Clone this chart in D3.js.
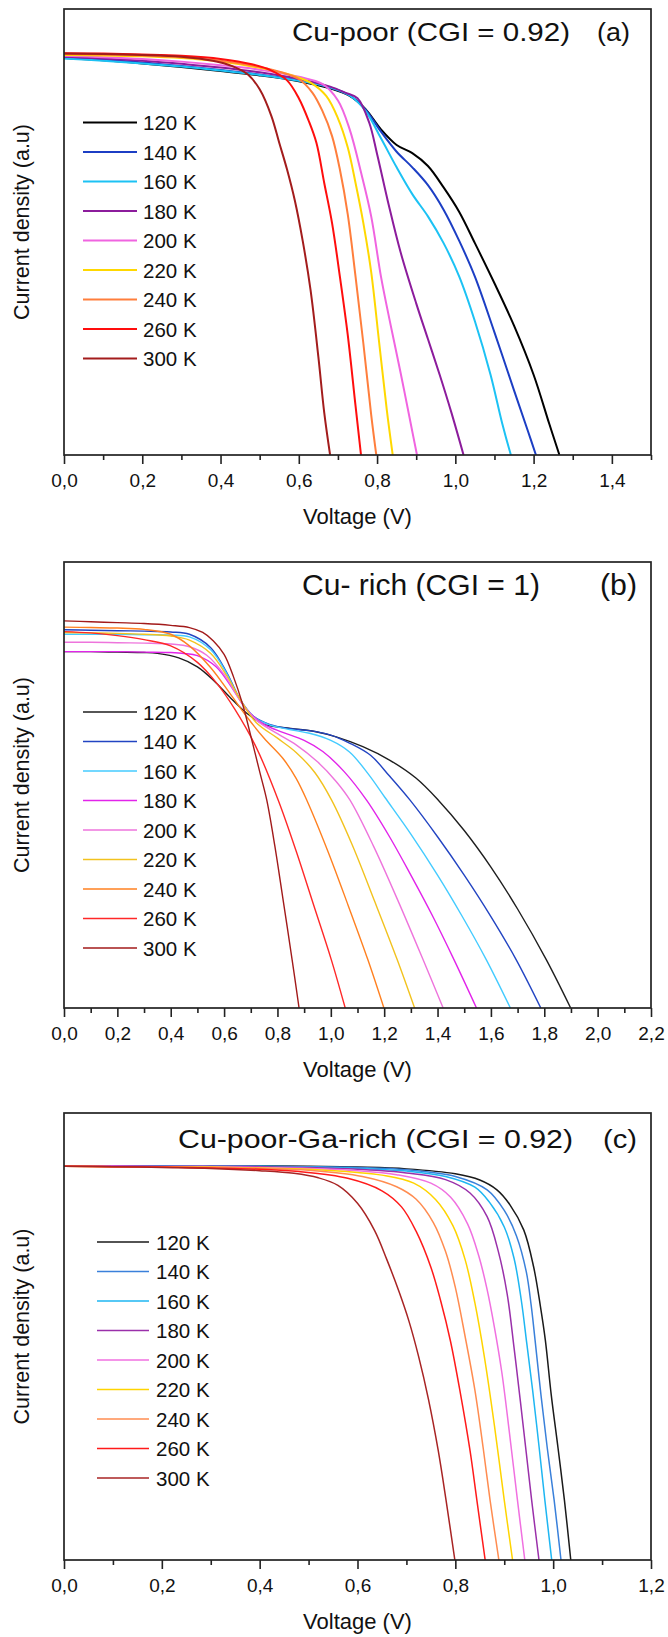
<!DOCTYPE html>
<html>
<head>
<meta charset="utf-8">
<script src="https://cdn.jsdelivr.net/npm/d3@7"></script>
<style>
  body { margin: 0; background: #fff; }
  svg { display: block; font-family: "Liberation Sans", Arial, sans-serif; }
</style>
</head>
<body>
<svg id="chart" width="668" height="1637"></svg>
<script>
// Measurement temperatures (legend entries, same for all three panels)
const temperatures = ["120 K", "140 K", "160 K", "180 K", "200 K", "220 K", "240 K", "260 K", "300 K"];

// ---- (a) Cu-poor (CGI = 0.92): voltage (V) and current density (a.u.) per temperature
const poorVoltage = [
  [0, 0.1, 0.2, 0.3, 0.4, 0.5, 0.6, 0.68, 0.73, 0.77, 0.81, 0.85, 0.89, 0.93, 0.97, 1.01, 1.05, 1.10, 1.15, 1.20, 1.24, 1.266],
  [0, 0.1, 0.2, 0.3, 0.4, 0.5, 0.6, 0.68, 0.73, 0.77, 0.81, 0.85, 0.89, 0.93, 0.97, 1.01, 1.05, 1.10, 1.15, 1.185, 1.206],
  [0, 0.1, 0.2, 0.3, 0.4, 0.5, 0.6, 0.68, 0.73, 0.77, 0.81, 0.85, 0.89, 0.93, 0.97, 1.01, 1.05, 1.09, 1.12, 1.142],
  [0, 0.1, 0.2, 0.3, 0.4, 0.5, 0.6, 0.68, 0.72, 0.75, 0.78, 0.80, 0.83, 0.86, 0.90, 0.93, 0.96, 0.99, 1.021],
  [0, 0.1, 0.2, 0.3, 0.4, 0.5, 0.6, 0.66, 0.70, 0.73, 0.76, 0.785, 0.81, 0.835, 0.86, 0.885, 0.902],
  [0, 0.1, 0.2, 0.3, 0.4, 0.5, 0.58, 0.63, 0.67, 0.70, 0.725, 0.745, 0.765, 0.785, 0.805, 0.825, 0.840],
  [0, 0.1, 0.2, 0.3, 0.4, 0.5, 0.56, 0.60, 0.635, 0.66, 0.685, 0.705, 0.725, 0.745, 0.765, 0.785, 0.798],
  [0, 0.1, 0.2, 0.3, 0.4, 0.48, 0.53, 0.57, 0.60, 0.625, 0.645, 0.665, 0.685, 0.705, 0.725, 0.745, 0.759],
  [0, 0.1, 0.2, 0.3, 0.38, 0.43, 0.47, 0.50, 0.53, 0.55, 0.57, 0.59, 0.61, 0.63, 0.65, 0.665, 0.68]
];
const poorCurrent = [
  [0.890, 0.885, 0.878, 0.870, 0.861, 0.851, 0.838, 0.822, 0.805, 0.776, 0.730, 0.695, 0.677, 0.648, 0.600, 0.545, 0.475, 0.385, 0.29, 0.18, 0.07, 0],
  [0.891, 0.886, 0.880, 0.872, 0.863, 0.853, 0.840, 0.824, 0.806, 0.775, 0.725, 0.68, 0.645, 0.605, 0.55, 0.48, 0.40, 0.275, 0.145, 0.055, 0],
  [0.889, 0.884, 0.878, 0.871, 0.862, 0.852, 0.839, 0.824, 0.806, 0.772, 0.71, 0.645, 0.585, 0.535, 0.475, 0.40, 0.30, 0.18, 0.07, 0],
  [0.893, 0.889, 0.884, 0.877, 0.869, 0.858, 0.843, 0.826, 0.812, 0.80, 0.745, 0.675, 0.56, 0.455, 0.34, 0.26, 0.18, 0.095, 0],
  [0.895, 0.892, 0.888, 0.882, 0.874, 0.864, 0.848, 0.832, 0.795, 0.73, 0.63, 0.535, 0.40, 0.29, 0.185, 0.075, 0],
  [0.897, 0.896, 0.894, 0.890, 0.882, 0.868, 0.852, 0.835, 0.805, 0.755, 0.69, 0.61, 0.52, 0.41, 0.255, 0.10, 0],
  [0.899, 0.898, 0.896, 0.892, 0.884, 0.870, 0.857, 0.843, 0.812, 0.772, 0.715, 0.64, 0.54, 0.40, 0.25, 0.09, 0],
  [0.901, 0.900, 0.898, 0.895, 0.888, 0.876, 0.862, 0.840, 0.80, 0.75, 0.70, 0.61, 0.52, 0.40, 0.27, 0.11, 0],
  [0.900, 0.899, 0.897, 0.893, 0.884, 0.872, 0.853, 0.82, 0.76, 0.70, 0.64, 0.57, 0.48, 0.37, 0.22, 0.095, 0]
];
const poorColors = ["#000000", "#1c3ec4", "#1cc2f4", "#8c1c9c", "#f064e0", "#ffd800", "#ff7e3c", "#ff0d0d", "#a31c1c"];
const poorTicks = [0, 0.2, 0.4, 0.6, 0.8, 1.0, 1.2, 1.4];
const poorTickLabels = ["0,0", "0,2", "0,4", "0,6", "0,8", "1,0", "1,2", "1,4"];

// ---- (b) Cu-rich (CGI = 1)
const richVoltage = [
  [0, 0.1, 0.2, 0.3, 0.35, 0.43, 0.50, 0.56, 0.62, 0.685, 0.75, 0.85, 0.94, 1.02, 1.12, 1.22, 1.32, 1.403, 1.50, 1.60, 1.70, 1.808, 1.899],
  [0, 0.1, 0.2, 0.3, 0.4, 0.47, 0.55, 0.61, 0.66, 0.71, 0.77, 0.85, 0.92, 1.00, 1.07, 1.15, 1.22, 1.297, 1.40, 1.50, 1.60, 1.695, 1.787],
  [0, 0.1, 0.2, 0.3, 0.4, 0.47, 0.55, 0.61, 0.66, 0.71, 0.77, 0.85, 0.92, 1.00, 1.07, 1.14, 1.203, 1.30, 1.40, 1.49, 1.583, 1.673],
  [0, 0.1, 0.2, 0.3, 0.4, 0.45, 0.50, 0.57, 0.635, 0.685, 0.75, 0.82, 0.90, 0.97, 1.05, 1.134, 1.22, 1.30, 1.38, 1.462, 1.546],
  [0, 0.1, 0.2, 0.3, 0.4, 0.47, 0.535, 0.60, 0.66, 0.72, 0.80, 0.87, 0.95, 1.02, 1.072, 1.16, 1.25, 1.346, 1.421],
  [0, 0.1, 0.2, 0.3, 0.4, 0.47, 0.55, 0.61, 0.66, 0.72, 0.80, 0.87, 0.94, 1.003, 1.08, 1.165, 1.249, 1.314],
  [0, 0.1, 0.2, 0.3, 0.4, 0.47, 0.55, 0.62, 0.685, 0.75, 0.82, 0.87, 0.91, 0.99, 1.065, 1.139, 1.199],
  [0, 0.1, 0.2, 0.3, 0.4, 0.5, 0.57, 0.64, 0.72, 0.803, 0.87, 0.935, 1.002, 1.054],
  [0, 0.1, 0.2, 0.3, 0.4, 0.47, 0.52, 0.56, 0.60, 0.635, 0.67, 0.70, 0.735, 0.76, 0.79, 0.82, 0.855, 0.881]
];
const richCurrent = [
  [0.799, 0.799, 0.798, 0.797, 0.795, 0.785, 0.765, 0.735, 0.698, 0.661, 0.636, 0.627, 0.620, 0.608, 0.586, 0.556, 0.515, 0.466, 0.398, 0.316, 0.222, 0.108, 0],
  [0.848, 0.847, 0.846, 0.845, 0.843, 0.838, 0.808, 0.752, 0.692, 0.654, 0.636, 0.626, 0.622, 0.612, 0.594, 0.566, 0.52, 0.466, 0.384, 0.298, 0.205, 0.108, 0],
  [0.838, 0.838, 0.838, 0.837, 0.836, 0.832, 0.803, 0.750, 0.691, 0.653, 0.635, 0.624, 0.616, 0.600, 0.574, 0.525, 0.472, 0.39, 0.298, 0.208, 0.108, 0],
  [0.799, 0.799, 0.799, 0.798, 0.797, 0.795, 0.790, 0.765, 0.713, 0.668, 0.636, 0.618, 0.600, 0.575, 0.53, 0.466, 0.384, 0.298, 0.208, 0.108, 0],
  [0.820, 0.820, 0.819, 0.818, 0.816, 0.810, 0.791, 0.748, 0.69, 0.646, 0.615, 0.59, 0.552, 0.508, 0.466, 0.363, 0.243, 0.108, 0],
  [0.842, 0.841, 0.840, 0.838, 0.834, 0.825, 0.795, 0.745, 0.692, 0.64, 0.605, 0.573, 0.528, 0.466, 0.366, 0.238, 0.108, 0],
  [0.854, 0.853, 0.852, 0.849, 0.838, 0.812, 0.763, 0.707, 0.653, 0.605, 0.56, 0.515, 0.466, 0.35, 0.23, 0.108, 0],
  [0.844, 0.841, 0.835, 0.826, 0.812, 0.775, 0.73, 0.67, 0.585, 0.466, 0.352, 0.232, 0.108, 0],
  [0.868, 0.866, 0.864, 0.862, 0.858, 0.853, 0.842, 0.823, 0.793, 0.743, 0.68, 0.61, 0.526, 0.466, 0.364, 0.247, 0.108, 0]
];
const richColors = ["#1e1e1e", "#2244c2", "#44cbff", "#e224ea", "#ee74dc", "#f2c21e", "#ff8020", "#ff2828", "#a21a1a"];
const richTicks = [0, 0.2, 0.4, 0.6, 0.8, 1.0, 1.2, 1.4, 1.6, 1.8, 2.0, 2.2];
const richTickLabels = ["0,0", "0,2", "0,4", "0,6", "0,8", "1,0", "1,2", "1,4", "1,6", "1,8", "2,0", "2,2"];

// ---- (c) Cu-poor-Ga-rich (CGI = 0.92)
const gaVoltage = [
  [0, 0.1, 0.2, 0.3, 0.4, 0.5, 0.6, 0.7, 0.8, 0.85, 0.885, 0.912, 0.94, 0.96, 0.974, 0.984, 0.996, 1.01, 1.023, 1.036],
  [0, 0.1, 0.2, 0.3, 0.4, 0.5, 0.6, 0.7, 0.8, 0.865, 0.90, 0.925, 0.945, 0.955, 0.963, 0.975, 0.988, 1.002, 1.016],
  [0, 0.1, 0.2, 0.3, 0.4, 0.5, 0.6, 0.7, 0.78, 0.84, 0.87, 0.90, 0.92, 0.935, 0.946, 0.958, 0.971, 0.983, 0.997],
  [0, 0.1, 0.2, 0.3, 0.4, 0.5, 0.6, 0.7, 0.78, 0.83, 0.865, 0.888, 0.906, 0.92, 0.933, 0.945, 0.956, 0.971],
  [0, 0.1, 0.2, 0.3, 0.4, 0.5, 0.6, 0.68, 0.75, 0.79, 0.825, 0.848, 0.865, 0.88, 0.895, 0.91, 0.927, 0.942],
  [0, 0.1, 0.2, 0.3, 0.4, 0.5, 0.6, 0.65, 0.715, 0.76, 0.795, 0.82, 0.84, 0.86, 0.88, 0.90, 0.917],
  [0, 0.1, 0.2, 0.3, 0.4, 0.5, 0.61, 0.68, 0.72, 0.755, 0.78, 0.80, 0.82, 0.84, 0.857, 0.871, 0.889],
  [0, 0.1, 0.2, 0.3, 0.4, 0.48, 0.58, 0.65, 0.69, 0.72, 0.75, 0.77, 0.79, 0.81, 0.83, 0.844, 0.861],
  [0, 0.1, 0.2, 0.3, 0.4, 0.47, 0.52, 0.56, 0.60, 0.635, 0.66, 0.685, 0.705, 0.725, 0.745, 0.765, 0.781, 0.799]
];
const gaCurrent = [
  [0.882, 0.882, 0.882, 0.882, 0.882, 0.881, 0.879, 0.875, 0.864, 0.850, 0.828, 0.794, 0.738, 0.656, 0.567, 0.492, 0.37, 0.25, 0.134, 0],
  [0.882, 0.882, 0.882, 0.882, 0.881, 0.880, 0.878, 0.873, 0.858, 0.828, 0.782, 0.725, 0.645, 0.57, 0.492, 0.37, 0.25, 0.134, 0],
  [0.882, 0.882, 0.882, 0.881, 0.881, 0.879, 0.876, 0.870, 0.858, 0.834, 0.80, 0.745, 0.675, 0.58, 0.485, 0.38, 0.255, 0.134, 0],
  [0.882, 0.882, 0.881, 0.881, 0.880, 0.878, 0.874, 0.866, 0.851, 0.821, 0.768, 0.69, 0.595, 0.475, 0.355, 0.24, 0.134, 0],
  [0.881, 0.881, 0.880, 0.880, 0.878, 0.876, 0.871, 0.862, 0.843, 0.812, 0.752, 0.68, 0.605, 0.52, 0.42, 0.29, 0.134, 0],
  [0.881, 0.880, 0.880, 0.879, 0.877, 0.874, 0.867, 0.861, 0.843, 0.806, 0.748, 0.672, 0.575, 0.45, 0.30, 0.134, 0],
  [0.881, 0.880, 0.879, 0.878, 0.876, 0.872, 0.858, 0.835, 0.807, 0.755, 0.69, 0.61, 0.50, 0.38, 0.25, 0.134, 0],
  [0.881, 0.880, 0.879, 0.877, 0.874, 0.869, 0.854, 0.826, 0.79, 0.735, 0.655, 0.58, 0.49, 0.375, 0.245, 0.134, 0],
  [0.881, 0.880, 0.878, 0.876, 0.871, 0.865, 0.855, 0.838, 0.798, 0.737, 0.672, 0.60, 0.535, 0.455, 0.36, 0.245, 0.134, 0]
];
const gaColors = ["#1a1a1a", "#3a80da", "#1eb6f2", "#9a30aa", "#f070e0", "#ffd400", "#ff8c50", "#ff1a1a", "#a82424"];
const gaTicks = [0, 0.2, 0.4, 0.6, 0.8, 1.0, 1.2];
const gaTickLabels = ["0,0", "0,2", "0,4", "0,6", "0,8", "1,0", "1,2"];

// ---- Layout of the three stacked panels
const left = 64, right = 651;
const panels = [
  { volt: poorVoltage, curr: poorCurrent, colors: poorColors, ticks: poorTicks, labels: poorTickLabels,
    xMax: 1.5, top: 9, bottom: 455, lineWidth: 2,
    title: "Cu-poor (CGI = 0.92)", titleX0: 292, titleX1: 570, tag: "(a)", tagX0: 597, tagX1: 630,
    titleBase: 41, titleSize: 26, legendX: 83, legendX1: 137, legendText: 143, legendY: 122.5 },
  { volt: richVoltage, curr: richCurrent, colors: richColors, ticks: richTicks, labels: richTickLabels,
    xMax: 2.2, top: 562, bottom: 1008, lineWidth: 1.4,
    title: "Cu- rich (CGI = 1)", titleX0: 302, titleX1: 540, tag: "(b)", tagX0: 600, tagX1: 637,
    titleBase: 595, titleSize: 29, legendX: 83, legendX1: 137, legendText: 143, legendY: 712 },
  { volt: gaVoltage, curr: gaCurrent, colors: gaColors, ticks: gaTicks, labels: gaTickLabels,
    xMax: 1.2, top: 1113, bottom: 1560, lineWidth: 1.5,
    title: "Cu-poor-Ga-rich (CGI = 0.92)", titleX0: 178, titleX1: 573, tag: "(c)", tagX0: 603, tagX1: 637,
    titleBase: 1148, titleSize: 26, legendX: 97, legendX1: 149, legendText: 156, legendY: 1242 }
];

const svg = d3.select("#chart");

panels.forEach((p, pi) => {
  const x = d3.scaleLinear().domain([0, p.xMax]).range([left, right]);
  const y = d3.scaleLinear().domain([0, 1]).range([p.bottom, p.top]);
  const g = svg.append("g");

  const clipId = "clip" + pi;
  svg.append("clipPath").attr("id", clipId)
    .append("rect").attr("x", left).attr("y", p.top)
    .attr("width", right - left).attr("height", p.bottom - p.top);

  // J-V curves, smoothed through the read-off points
  const line = d3.line()
    .x(d => x(d[0])).y(d => y(d[1]))
    .curve(d3.curveCatmullRom.alpha(0.5));
  const curves = g.append("g").attr("clip-path", `url(#${clipId})`);
  p.volt.forEach((vs, i) => {
    const pts = vs.map((v, k) => [v, p.curr[i][k]]);
    curves.append("path")
      .attr("d", line(pts))
      .attr("fill", "none")
      .attr("stroke", p.colors[i])
      .attr("stroke-width", p.lineWidth)
      .attr("stroke-linejoin", "round");
  });

  // Minor ticks every 0.1 V
  const minor = d3.range(1, Math.round(p.xMax * 10) + 1).map(k => k / 10)
    .filter(v => Math.abs(v * 10 % 2 - 1) < 1e-6);
  g.append("g")
    .attr("transform", `translate(0,${p.bottom})`)
    .call(d3.axisBottom(x).tickValues(minor).tickSize(5).tickFormat(""))
    .call(a => a.select(".domain").remove())
    .call(a => a.selectAll("line").attr("stroke", "#222").attr("stroke-width", 1.6));

  // Major ticks with comma decimal labels
  g.append("g")
    .attr("transform", `translate(0,${p.bottom})`)
    .call(d3.axisBottom(x).tickValues(p.ticks).tickSize(9).tickPadding(0)
      .tickFormat((d, i) => p.labels[i]))
    .call(a => a.select(".domain").remove())
    .call(a => a.selectAll("line").attr("stroke", "#222").attr("stroke-width", 1.6))
    .call(a => a.selectAll("text")
      .attr("y", 32).attr("dy", null)
      .attr("fill", "#111")
      .style("font-size", "19px")
      .style("font-family", '"Liberation Sans", Arial, sans-serif'));

  // Frame
  g.append("rect")
    .attr("x", left).attr("y", p.top)
    .attr("width", right - left).attr("height", p.bottom - p.top)
    .attr("fill", "none").attr("stroke", "#222").attr("stroke-width", 1.7);

  // Axis titles
  g.append("text")
    .attr("x", (left + right) / 2).attr("y", p.bottom + 69)
    .attr("text-anchor", "middle").attr("fill", "#111")
    .style("font-size", "22px")
    .text("Voltage (V)");
  g.append("text")
    .attr("transform", `translate(29,${(p.top + p.bottom) / 2 - 10}) rotate(-90)`)
    .attr("text-anchor", "middle").attr("fill", "#111")
    .style("font-size", "21.5px")
    .text("Current density (a.u)");

  // Panel title and tag
  g.append("text")
    .attr("x", p.titleX0).attr("y", p.titleBase)
    .attr("textLength", p.titleX1 - p.titleX0).attr("lengthAdjust", "spacingAndGlyphs")
    .attr("fill", "#111").style("font-size", p.titleSize + "px")
    .text(p.title);
  g.append("text")
    .attr("x", p.tagX0).attr("y", p.titleBase)
    .attr("textLength", p.tagX1 - p.tagX0).attr("lengthAdjust", "spacingAndGlyphs")
    .attr("fill", "#111").style("font-size", p.titleSize + "px")
    .text(p.tag);

  // Legend
  const leg = g.append("g");
  temperatures.forEach((t, i) => {
    const ly = p.legendY + i * 29.5;
    leg.append("line")
      .attr("x1", p.legendX).attr("x2", p.legendX1)
      .attr("y1", ly).attr("y2", ly)
      .attr("stroke", p.colors[i]).attr("stroke-width", p.lineWidth);
    leg.append("text")
      .attr("x", p.legendText).attr("y", ly + 7.5)
      .attr("fill", "#111").style("font-size", "20.5px")
      .text(t);
  });
});
</script>
</body>
</html>
